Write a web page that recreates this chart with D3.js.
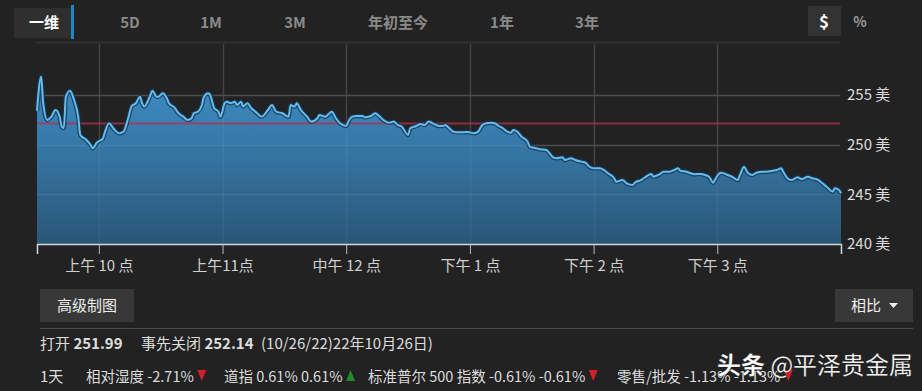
<!DOCTYPE html>
<html>
<head>
<meta charset="utf-8">
<script src="https://cdn.jsdelivr.net/npm/d3@7"></script>
<style>
  html, body { margin: 0; padding: 0; background: #222222; }
  svg { display: block; font-family: "Noto Sans CJK SC", "Noto Sans", sans-serif; }
</style>
</head>
<body>
<div id="chart"></div>
<script>
// minutes after 9:30 and price in USD
var minutes = [0, 2, 3, 5, 7, 9, 11, 12, 13, 14, 16, 18, 20, 21, 24, 26, 27, 29, 32, 33, 35, 37, 40, 42, 44, 46, 48, 50, 51, 52,
  54, 55, 56, 58, 59, 61, 63, 64, 67, 68, 71, 73, 75, 76, 78, 80, 81, 83, 84, 86, 88, 89, 91, 92, 94, 96, 97, 99, 100, 102,
  104, 106, 109, 112, 114, 116, 119, 122, 123, 125, 126, 128, 131, 133, 136, 137, 140, 141, 143, 145, 147, 150, 151, 153, 155, 158, 159, 162, 164, 166,
  168, 171, 173, 175, 177, 180, 181, 184, 186, 188, 190, 192, 195, 197, 198, 200, 202, 205, 207, 209, 212, 214, 216, 218, 220, 222, 224, 226, 228, 230,
  231, 233, 235, 238, 239, 242, 244, 247, 248, 250, 252, 255, 256, 259, 261, 264, 266, 268, 270, 273, 275, 277, 280, 281, 284, 286, 289, 290, 293, 295,
  298, 299, 302, 304, 307, 309, 311, 312, 315, 317, 319, 322, 324, 326, 328, 329, 331, 332, 335, 337, 340, 341, 343, 344, 345, 347, 349, 352, 354, 357,
  359, 361, 362, 364, 366, 369, 371, 374, 376, 379, 381, 383, 386, 387, 389, 390];
var prices = [253.4, 256.85, 254.2, 252.49, 252.82, 253.49, 252.82, 251.81, 251.68, 254.83, 255.44, 254.5, 252.82, 250.98, 250.47, 249.97, 249.64, 250.2, 250.64, 251.31,
  252.15, 251.65, 251.15, 251.31, 252.49, 253.9, 254.17, 254.83, 254.17, 253.83,
  254.5, 255.0, 255.44, 254.83, 254.83, 255.18, 254.67, 254.17, 253.67, 253.32, 252.82, 252.49, 252.66, 253.16, 253.32, 254.0, 254.83, 255.18, 255.0, 253.67,
  253.32, 252.82, 254.17, 254.33, 254.17, 254.33, 254.0, 254.33, 253.83, 254.17,
  253.67, 253.32, 252.82, 253.49, 254.0, 253.32, 253.16, 252.82, 254.0, 253.83, 254.17, 253.49, 252.82, 252.32, 252.66, 252.99, 252.82, 252.99, 253.32, 252.66,
  252.15, 251.88, 252.32, 252.82, 252.89, 252.89, 252.76, 252.89, 253.16, 252.89,
  252.49, 252.21, 252.32, 251.98, 251.81, 250.98, 251.65, 251.88, 252.08, 251.98, 252.32, 252.15, 251.88, 251.88, 251.98, 251.65, 251.31, 251.25, 251.25, 251.28,
  251.15, 251.31, 251.98, 252.15, 252.21, 252.15, 251.88, 251.65, 251.31, 251.21,
  251.48, 251.31, 250.81, 250.3, 249.8, 249.64, 249.54, 249.47, 249.29, 248.79, 248.63, 248.73, 248.46, 248.63, 248.46, 248.29, 248.19, 247.78, 247.62, 247.62,
  247.45, 247.12, 246.62, 246.27, 246.44, 246.11, 245.94, 246.17, 246.44, 246.72,
  247.05, 246.78, 247.02, 247.28, 247.28, 247.45, 247.62, 247.38, 247.28, 247.12, 247.02, 247.05, 246.95, 246.78, 246.17, 246.52, 247.12, 247.18, 246.95, 246.78,
  246.44, 246.95, 247.78, 247.45, 247.12, 246.95, 247.18, 247.28, 247.28, 247.38,
  247.45, 247.62, 247.28, 246.62, 246.44, 246.72, 246.52, 246.78, 246.62, 246.44, 246.11, 245.77, 245.27, 245.61, 245.44, 245.11];

var prevClose = 252.14;
var openPrice = 251.99;

var tabLabels = ["一维", "5D", "1M", "3M", "年初至今", "1年", "3年"];
var tickMinutes = [30, 90, 150, 210, 270, 330];
var tickLabels = ["上午 10 点", "上午11点", "中午 12 点", "下午 1 点", "下午 2 点", "下午 3 点"];
var yTicks = [240, 245, 250, 255];

// comparison row: name, shown values
var compareNames = ["相对湿度", "道指", "标准普尔 500 指数", "零售/批发"];
var compareTexts = ["-2.71%", "0.61% 0.61%", "-0.61% -0.61%", "-1.13% -1.13%"];
var compareValues = [-2.71, 0.61, -0.61, -1.13];

var data = minutes.map(function(m, i) { return { t: m, p: prices[i] }; });

var W = 922, H = 391;
var svg = d3.select("#chart").append("svg").attr("width", W).attr("height", H);
svg.append("rect").attr("width", W).attr("height", H).attr("fill", "#222222");

// ---- tab bar
var tabX = [44, 130, 211, 295, 398, 502, 587];
svg.append("rect").attr("x", 14).attr("y", 8).attr("width", 58).attr("height", 30).attr("fill", "#2f2f2f");
svg.append("rect").attr("x", 71).attr("y", 5).attr("width", 3).attr("height", 34).attr("fill", "#1b87c9");
svg.selectAll(".tab").data(tabLabels).enter().append("text")
  .attr("x", function(d, i) { return tabX[i]; })
  .attr("y", 28)
  .attr("text-anchor", "middle")
  .attr("font-size", 15)
  .attr("font-weight", "bold")
  .attr("fill", function(d, i) { return i === 0 ? "#ffffff" : "#8a8a8a"; })
  .text(function(d) { return d; });
svg.append("rect").attr("x", 808).attr("y", 6).attr("width", 33).attr("height", 30).attr("fill", "#333333");
svg.append("text").attr("x", 824).attr("y", 28).attr("text-anchor", "middle").attr("font-size", 17)
  .attr("font-weight", "bold").attr("fill", "#ffffff").text("$");
svg.append("text").attr("x", 860).attr("y", 27).attr("text-anchor", "middle").attr("font-size", 14)
  .attr("font-weight", "bold").attr("fill", "#9a9a9a").text("%");
svg.append("line").attr("x1", 36).attr("x2", 840).attr("y1", 42.5).attr("y2", 42.5)
  .attr("stroke", "#303030").attr("stroke-width", 2);

// ---- scales
var x = d3.scaleLinear().domain([0, 390]).range([37, 841]);
var y = d3.scaleLinear().domain([240, 255]).range([244, 95]);
var plotTop = 44, plotRight = 840;

// grid under area
var grid = svg.append("g");
grid.selectAll(".hg").data(yTicks.slice(1)).enter().append("line")
  .attr("x1", 37).attr("x2", plotRight)
  .attr("y1", function(d) { return Math.round(y(d)) + 0.5; })
  .attr("y2", function(d) { return Math.round(y(d)) + 0.5; })
  .attr("stroke", "#414141").attr("stroke-width", 1.5);
grid.selectAll(".vg").data(tickMinutes).enter().append("line")
  .attr("x1", function(d) { return Math.round(x(d)) + 0.5; })
  .attr("x2", function(d) { return Math.round(x(d)) + 0.5; })
  .attr("y1", plotTop).attr("y2", 244)
  .attr("stroke", "#3a3a3a").attr("stroke-width", 1.5);

// area gradient
var defs = svg.append("defs");
var grad = defs.append("linearGradient").attr("id", "areaGrad")
  .attr("gradientUnits", "userSpaceOnUse").attr("x1", 0).attr("x2", 0).attr("y1", 75).attr("y2", 244);
grad.append("stop").attr("offset", "0%").attr("stop-color", "#3f8fc8");
grad.append("stop").attr("offset", "100%").attr("stop-color", "#2a5677");

var area = d3.area().x(function(d) { return x(d.t); }).y0(244).y1(function(d) { return y(d.p); }).curve(d3.curveMonotoneX);
var line = d3.line().x(function(d) { return x(d.t); }).y(function(d) { return y(d.p); }).curve(d3.curveMonotoneX);

svg.append("path").datum(data).attr("d", area).attr("fill", "url(#areaGrad)");

// grid over area (faint)
var grid2 = svg.append("g");
grid2.selectAll(".hg2").data(yTicks.slice(1)).enter().append("line")
  .attr("x1", 37).attr("x2", plotRight)
  .attr("y1", function(d) { return Math.round(y(d)) + 0.5; })
  .attr("y2", function(d) { return Math.round(y(d)) + 0.5; })
  .attr("stroke", "#ffffff").attr("stroke-opacity", 0.07).attr("stroke-width", 1.5);
grid2.selectAll(".vg2").data(tickMinutes).enter().append("line")
  .attr("x1", function(d) { return Math.round(x(d)) + 0.5; })
  .attr("x2", function(d) { return Math.round(x(d)) + 0.5; })
  .attr("y1", plotTop).attr("y2", 244)
  .attr("stroke", "#ffffff").attr("stroke-opacity", 0.05).attr("stroke-width", 1.5);

// previous close line
svg.append("line").attr("x1", 37).attr("x2", plotRight)
  .attr("y1", y(prevClose)).attr("y2", y(prevClose))
  .attr("stroke", "#b3304c").attr("stroke-opacity", 0.75).attr("stroke-width", 2);

// price line with dark edge
svg.append("path").datum(data).attr("d", line).attr("fill", "none")
  .attr("stroke", "#173650").attr("stroke-width", 4.5).attr("stroke-opacity", 0.8);
svg.append("path").datum(data).attr("d", line).attr("fill", "none")
  .attr("stroke", "#66bcee").attr("stroke-width", 2);

// x axis
var xAxis = svg.append("g").attr("transform", "translate(0,244)")
  .call(d3.axisBottom(x).tickValues(tickMinutes).tickSize(10).tickFormat(function(d, i) { return tickLabels[i]; }));
xAxis.select(".domain").attr("stroke", "#cfd8df").attr("stroke-width", 1.5);
xAxis.selectAll(".tick line").attr("stroke", "#bbbbbb");
xAxis.selectAll(".tick text").attr("fill", "#d0d0d0").attr("font-size", 15).attr("dy", "0.95em")
  .style("font-family", "'Noto Sans CJK SC', sans-serif");

// y axis labels on right
var yAxis = svg.append("g").attr("transform", "translate(841,0)")
  .call(d3.axisRight(y).tickValues(yTicks).tickSize(0).tickPadding(6).tickFormat(function(d) { return d + " 美"; }));
yAxis.select(".domain").remove();
yAxis.selectAll(".tick text").attr("fill", "#dddddd").attr("font-size", 15)
  .style("font-family", "'Noto Sans CJK SC', sans-serif");

// ---- buttons
svg.append("rect").attr("x", 40).attr("y", 289).attr("width", 94).attr("height", 33).attr("fill", "#383838");
svg.append("text").attr("x", 87).attr("y", 311).attr("text-anchor", "middle").attr("font-size", 15)
  .attr("fill", "#eeeeee").text("高级制图");
svg.append("rect").attr("x", 835).attr("y", 289).attr("width", 78).attr("height", 33).attr("fill", "#383838");
svg.append("text").attr("x", 866).attr("y", 311).attr("text-anchor", "middle").attr("font-size", 15)
  .attr("fill", "#eeeeee").text("相比");
svg.append("path").attr("d", "M889,303 L898,303 L893.5,308 Z").attr("fill", "#eeeeee");
svg.append("line").attr("x1", 40).attr("x2", 913).attr("y1", 328.5).attr("y2", 328.5)
  .attr("stroke", "#4a4a4a").attr("stroke-width", 1);

// ---- info rows
var row1 = svg.append("text").attr("x", 40).attr("y", 349).attr("font-size", 15).attr("fill", "#dddddd");
row1.append("tspan").text("打开 ");
row1.append("tspan").attr("font-weight", "bold").text(openPrice.toFixed(2));
row1.append("tspan").attr("x", 141).text("事先关闭 ");
row1.append("tspan").attr("font-weight", "bold").text(prevClose.toFixed(2));
row1.append("tspan").attr("x", 261).text("(10/26/22)22年10月26日)");

svg.append("text").attr("x", 40).attr("y", 382).attr("font-size", 15).attr("fill", "#dddddd").text("1天");
var cmpX = [86, 224, 368, 617];
compareNames.forEach(function(n, i) {
  var t = svg.append("text").attr("x", cmpX[i]).attr("y", 382).attr("font-size", 14.5).attr("fill", "#dddddd")
    .text(n + " " + compareTexts[i]);
  var ax = cmpX[i] + t.node().getComputedTextLength() + 8, up = compareValues[i] > 0;
  svg.append("path")
    .attr("d", up ? "M" + (ax - 4.5) + ",381 L" + (ax + 4.5) + ",381 L" + ax + ",370 Z"
                  : "M" + (ax - 4.5) + ",370 L" + (ax + 4.5) + ",370 L" + ax + ",381 Z")
    .attr("fill", up ? "#1f8a2a" : "#d0202a");
});

// watermark
var wm = svg.append("text").attr("x", 717).attr("y", 374).attr("font-size", 24).attr("fill", "#ffffff")
  .attr("stroke", "#000000").attr("stroke-opacity", 0.35).attr("stroke-width", 0.6);
wm.append("tspan").attr("font-weight", "bold").text("头条");
wm.append("tspan").text(" @平泽贵金属");
</script>
</body>
</html>
